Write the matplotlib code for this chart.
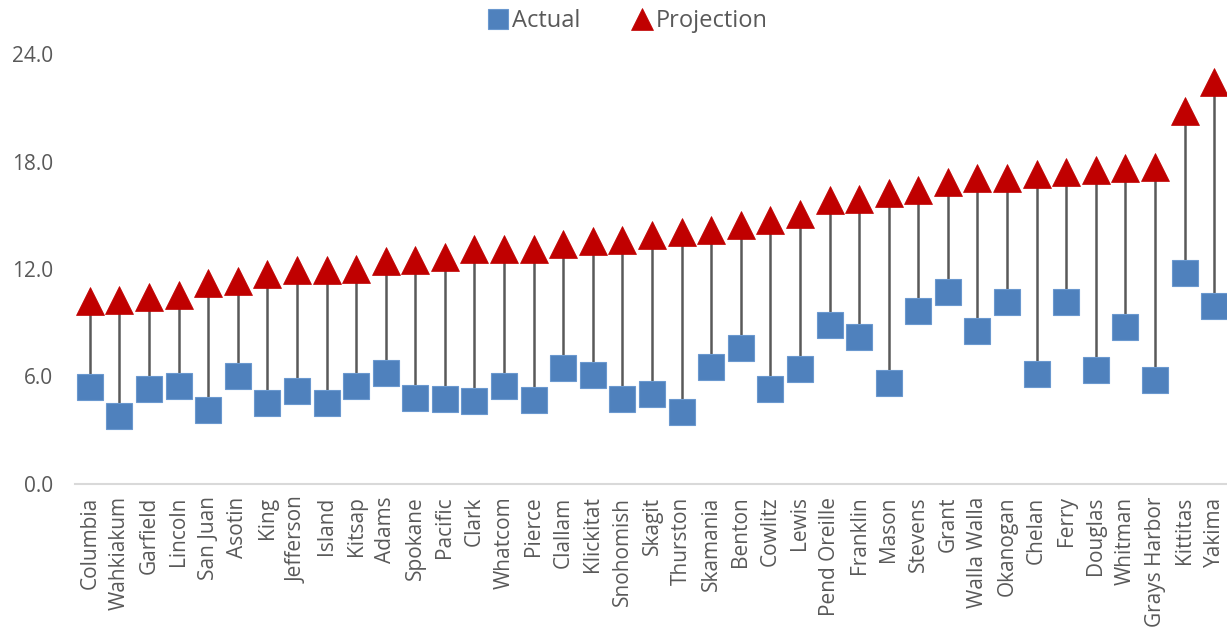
import matplotlib.pyplot as plt

plt.rcParams['font.family'] = ['Open Sans', 'DejaVu Sans']

counties = ['Columbia', 'Wahkiakum', 'Garfield', 'Lincoln', 'San Juan', 'Asotin',
            'King', 'Jefferson', 'Island', 'Kitsap', 'Adams', 'Spokane', 'Pacific',
            'Clark', 'Whatcom', 'Pierce', 'Clallam', 'Klickitat', 'Snohomish',
            'Skagit', 'Thurston', 'Skamania', 'Benton', 'Cowlitz', 'Lewis',
            'Pend Oreille', 'Franklin', 'Mason', 'Stevens', 'Grant', 'Walla Walla',
            'Okanogan', 'Chelan', 'Ferry', 'Douglas', 'Whitman', 'Grays Harbor',
            'Kittitas', 'Yakima']

actual = [5.41, 3.79, 5.32, 5.45, 4.11, 6.01, 4.52, 5.19, 4.54, 5.45, 6.20, 4.79,
          4.75, 4.65, 5.46, 4.71, 6.47, 6.06, 4.77, 5.03, 4.03, 6.51, 7.58, 5.30,
          6.43, 8.85, 8.18, 5.64, 9.63, 10.72, 8.53, 10.15, 6.14, 10.17, 6.36,
          8.76, 5.81, 11.75, 9.95]

projection = [10.20, 10.29, 10.41, 10.56, 11.21, 11.32, 11.70, 11.92, 11.95, 12.00,
              12.46, 12.53, 12.66, 13.11, 13.13, 13.13, 13.40, 13.57, 13.60, 13.90,
              14.09, 14.18, 14.43, 14.74, 15.07, 15.85, 15.92, 16.25, 16.40, 16.86,
              17.09, 17.10, 17.33, 17.40, 17.51, 17.64, 17.72, 20.80, 22.41]

yticks = [0, 6, 12, 18, 24]

W, H = 1227, 628
fig = plt.figure(figsize=(W / 100, H / 100), dpi=100)
ax = fig.add_axes([75 / W, 144 / H, 1154 / W, 430 / H])

x = list(range(len(counties)))

# high-low connector lines
ax.vlines(x, actual, projection, color='#595959', linewidth=1.8, zorder=1)

ax.plot(x, actual, linestyle='none', marker='s', markersize=18.5,
        markerfacecolor='#4F81BD', markeredgecolor='#6A98CF', markeredgewidth=0.8,
        label='Actual', zorder=3)
ax.plot(x, projection, linestyle='none', marker='^', markersize=20,
        markerfacecolor='#C00000', markeredgecolor='#C00000', markeredgewidth=0.5,
        label='Projection', zorder=3)

ax.set_xlim(-0.5, len(counties) - 0.5)
ax.set_ylim(0, 24)
ax.set_yticks(yticks)
ax.set_yticklabels([f'{v:.1f}' for v in yticks])
ax.set_xticks(x)
ax.set_xticklabels(counties, rotation=90, va='top', ha='center')

for side in ['top', 'right', 'left']:
    ax.spines[side].set_visible(False)
ax.spines['bottom'].set_color('#D9D9D9')
ax.spines['bottom'].set_linewidth(1.5)
ax.tick_params(axis='both', length=0, labelsize=15, labelcolor='#595959')
ax.tick_params(axis='y', pad=16)
ax.tick_params(axis='x', pad=9)

leg = fig.legend(loc='center', bbox_to_anchor=(628 / W, 1 - 21 / H), ncol=2,
                 frameon=False, fontsize=17, handlelength=0.8, handletextpad=0.2,
                 columnspacing=2.2, markerscale=0.8)
for t in leg.get_texts():
    t.set_color('#595959')

fig.savefig('out.png', dpi=100)
